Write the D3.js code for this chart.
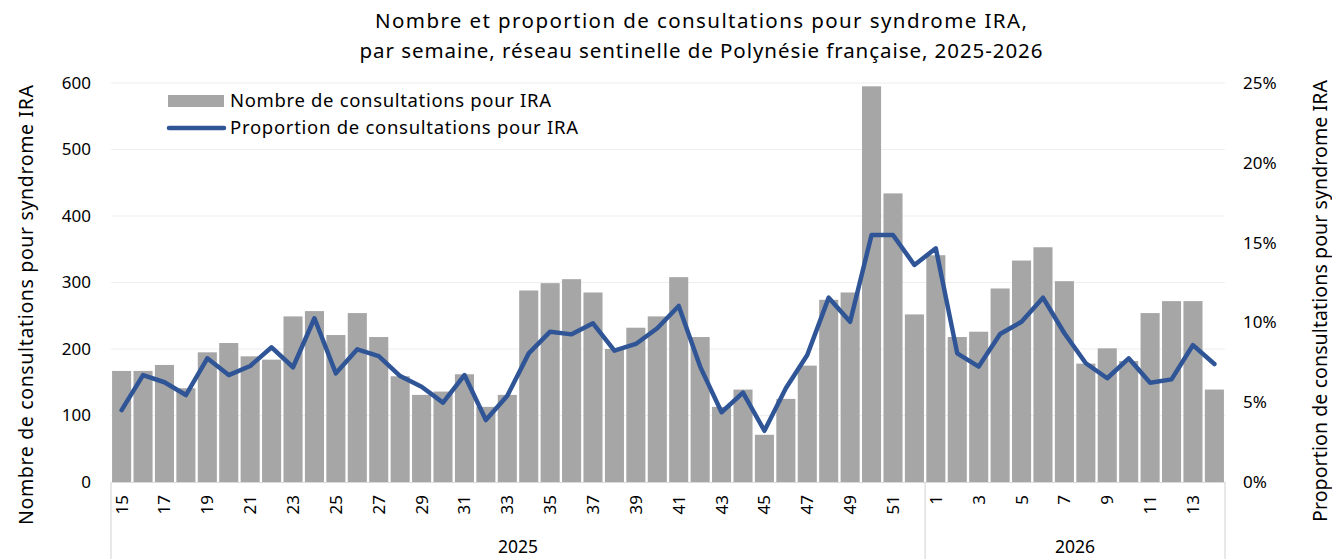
<!DOCTYPE html>
<html>
<head>
<meta charset="utf-8">
<script src="https://cdn.jsdelivr.net/npm/d3@7"></script>
<style>
  body { margin: 0; background: #fff; }
  svg text { font-family: 'Noto Sans', 'Open Sans', sans-serif; fill: #000; }
</style>
</head>
<body>
<svg id="chart" width="1332" height="559"></svg>
<script>
// weeks shown on the axis
const weeks2025 = d3.range(15, 53)
const weeks2026 = d3.range(1, 15)

// number of consultations for IRA (bars)
const counts2025 = [167, 167, 176, 141, 195, 209, 189, 184, 249, 257,
  221, 254, 218, 159, 131, 136, 162, 113, 131, 288,
  299, 305, 285, 200, 232, 249, 308, 218, 113, 139,
  71, 125, 175, 274, 285, 595, 434, 252]
const counts2026 = [341, 218, 226, 291, 333, 353, 302, 178, 201, 182,
  254, 272, 272, 139]

// proportion of consultations for IRA, in % (line)
const share2025 = [4.5, 6.7, 6.25, 5.45, 7.75, 6.7, 7.27, 8.44, 7.19, 10.26,
  6.81, 8.31, 7.89, 6.64, 5.97, 4.97, 6.7, 3.88, 5.4, 8.06,
  9.42, 9.25, 9.94, 8.23, 8.65, 9.63, 11.03, 7.23, 4.37, 5.6,
  3.21, 5.87, 7.96, 11.55, 10.04, 15.48, 15.48, 13.6]
const share2026 = [14.64, 8.06, 7.23, 9.27, 10.04, 11.55, 9.32, 7.44, 6.5, 7.75,
  6.22, 6.43, 8.58, 7.39]

const leftTicks = [0, 100, 200, 300, 400, 500, 600]
const rightTicks = [0, 5, 10, 15, 20, 25]

// build rows
const rows = [
  ...weeks2025.map((w, i) => ({ year: 2025, week: w, count: counts2025[i], share: share2025[i] })),
  ...weeks2026.map((w, i) => ({ year: 2026, week: w, count: counts2026[i], share: share2026[i] })),
]
rows.forEach((d) => (d.key = d.year + '-' + d.week))

const margin = { top: 83, right: 107, bottom: 77, left: 111 }
const width = 1332
const height = 559
const plotRight = width - margin.right
const plotBottom = height - margin.bottom

const svg = d3.select('#chart')

const x = d3
  .scaleBand()
  .domain(rows.map((d) => d.key))
  .range([margin.left, plotRight])
  .paddingInner(0.11)
  .paddingOuter(0.05)

const yLeft = d3.scaleLinear().domain([0, 600]).range([plotBottom, margin.top])
const yRight = d3.scaleLinear().domain([0, 25]).range([plotBottom, margin.top])

// gridlines
svg
  .append('g')
  .attr('id', 'grid')
  .selectAll('line')
  .data(leftTicks.filter((t) => t > 0))
  .join('line')
  .attr('x1', margin.left)
  .attr('x2', plotRight)
  .attr('y1', (d) => yLeft(d))
  .attr('y2', (d) => yLeft(d))
  .attr('stroke', '#eeeeee')
  .attr('stroke-width', 1.2)

// bars
svg
  .append('g')
  .attr('id', 'bars')
  .selectAll('rect')
  .data(rows)
  .join('rect')
  .attr('x', (d) => x(d.key))
  .attr('width', x.bandwidth())
  .attr('y', (d) => yLeft(d.count))
  .attr('height', (d) => plotBottom - yLeft(d.count))
  .attr('fill', '#a6a6a6')

// line
const line = d3
  .line()
  .x((d) => x(d.key) + x.bandwidth() / 2)
  .y((d) => yRight(d.share))

svg
  .append('path')
  .datum(rows)
  .attr('d', line)
  .attr('fill', 'none')
  .attr('stroke', '#2f5597')
  .attr('stroke-width', 4.5)
  .attr('stroke-linejoin', 'round')
  .attr('stroke-linecap', 'round')

// left axis
const leftAxis = svg
  .append('g')
  .attr('transform', `translate(${margin.left},0)`)
  .call(d3.axisLeft(yLeft).tickValues(leftTicks).tickSize(0).tickPadding(20))
leftAxis.select('.domain').remove()
leftAxis.selectAll('text').attr('font-size', 17).attr('font-family', null)

// right axis
const rightAxis = svg
  .append('g')
  .attr('transform', `translate(${plotRight},0)`)
  .call(
    d3
      .axisRight(yRight)
      .tickValues(rightTicks)
      .tickSize(0)
      .tickPadding(18)
      .tickFormat((d) => d + '%')
  )
rightAxis.select('.domain').remove()
rightAxis.selectAll('text').attr('font-size', 17).attr('font-family', null)

// bottom axis: weeks
const bottomAxis = svg
  .append('g')
  .attr('transform', `translate(0,${plotBottom})`)
  .call(
    d3
      .axisBottom(x)
      .tickValues(rows.filter((d) => d.week % 2 === 1).map((d) => d.key))
      .tickSize(0)
      .tickFormat((k) => k.split('-')[1])
  )
bottomAxis.select('.domain').attr('stroke', '#d9d9d9').attr('stroke-width', 1.2)
bottomAxis
  .selectAll('text')
  .attr('font-size', 17)
  .attr('font-family', null)
  .attr('transform', 'rotate(-90)')
  .attr('text-anchor', 'end')
  .attr('x', -13)
  .attr('y', 0)
  .attr('dy', '0.35em')

// year groups with separators
const years = [2025, 2026]
const yearBounds = years.map((yr) => {
  const ks = rows.filter((d) => d.year === yr).map((d) => d.key)
  const step = x.step()
  const x0 = x(ks[0]) - (step - x.bandwidth()) / 2
  const x1 = x(ks[ks.length - 1]) + x.bandwidth() + (step - x.bandwidth()) / 2
  return { year: yr, x0, x1 }
})
yearBounds[0].x0 = margin.left
yearBounds[yearBounds.length - 1].x1 = plotRight

const sepX = [margin.left, yearBounds[1].x0, plotRight]
svg
  .append('g')
  .selectAll('line')
  .data(sepX)
  .join('line')
  .attr('x1', (d) => d)
  .attr('x2', (d) => d)
  .attr('y1', plotBottom)
  .attr('y2', height)
  .attr('stroke', '#d9d9d9')
  .attr('stroke-width', 1.2)

svg
  .append('g')
  .selectAll('text')
  .data(yearBounds)
  .join('text')
  .attr('x', (d) => (d.x0 + d.x1) / 2)
  .attr('y', 553)
  .attr('text-anchor', 'middle')
  .attr('font-size', 17.5)
  .text((d) => d.year)

// axis titles
svg
  .append('text')
  .attr('transform', `translate(33,305) rotate(-90)`)
  .attr('text-anchor', 'middle')
  .attr('font-size', 19.5)
  .attr('textLength', 440)
  .attr('lengthAdjust', 'spacing')
  .text('Nombre de consultations pour syndrome IRA')

svg
  .append('text')
  .attr('transform', `translate(1327,301) rotate(-90)`)
  .attr('text-anchor', 'middle')
  .attr('font-size', 19.5)
  .attr('textLength', 442)
  .attr('lengthAdjust', 'spacing')
  .text('Proportion de consultations pour syndrome IRA')

// title
const titleLines = [
  'Nombre et proportion de consultations pour syndrome IRA,',
  'par semaine, réseau sentinelle de Polynésie française, 2025-2026',
]
const titleWidths = [652, 683]
svg
  .append('g')
  .selectAll('text')
  .data(titleLines)
  .join('text')
  .attr('x', 701)
  .attr('y', (d, i) => 28 + i * 30)
  .attr('text-anchor', 'middle')
  .attr('font-size', 20.5)
  .attr('textLength', (d, i) => titleWidths[i])
  .attr('lengthAdjust', 'spacing')
  .text((d) => d)

// legend
const legend = svg.append('g').attr('transform', 'translate(168,0)')
legend
  .append('rect')
  .attr('x', 0)
  .attr('y', 95)
  .attr('width', 56)
  .attr('height', 12)
  .attr('fill', '#a6a6a6')
legend
  .append('text')
  .attr('x', 62)
  .attr('y', 101)
  .attr('dy', '0.35em')
  .attr('font-size', 18.5)
  .attr('textLength', 321)
  .attr('lengthAdjust', 'spacing')
  .text('Nombre de consultations pour IRA')
legend
  .append('line')
  .attr('x1', 1)
  .attr('x2', 56)
  .attr('y1', 128)
  .attr('y2', 128)
  .attr('stroke', '#2f5597')
  .attr('stroke-width', 4.5)
  .attr('stroke-linecap', 'round')
legend
  .append('text')
  .attr('x', 62)
  .attr('y', 128)
  .attr('dy', '0.35em')
  .attr('font-size', 18.5)
  .attr('textLength', 348)
  .attr('lengthAdjust', 'spacing')
  .text('Proportion de consultations pour IRA')
</script>
</body>
</html>
